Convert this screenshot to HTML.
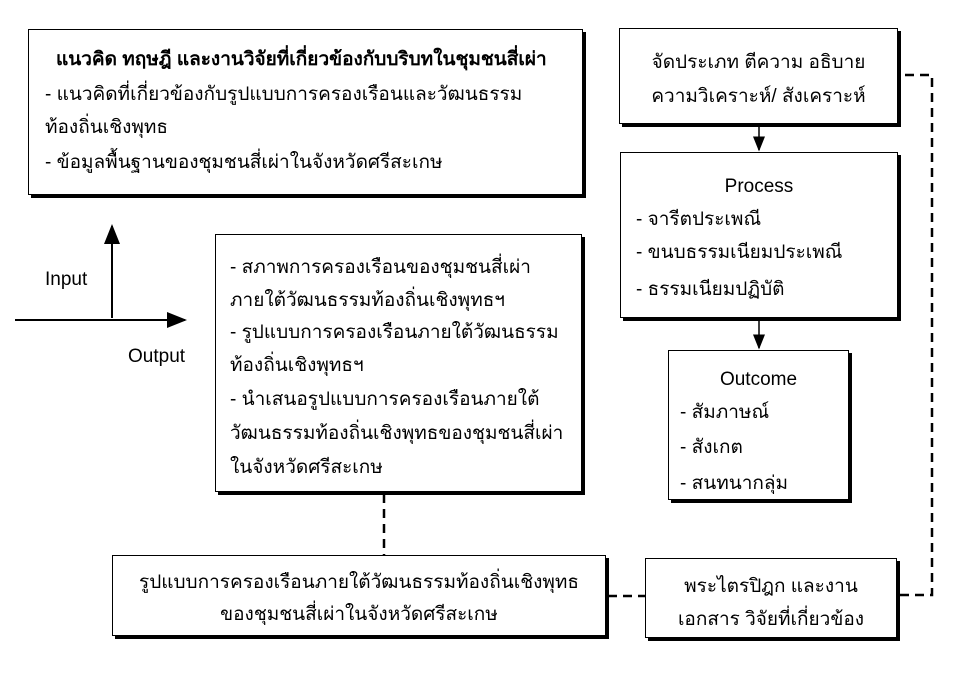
<!DOCTYPE html>
<html><head><meta charset="utf-8"><style>
body{margin:0;width:971px;height:673px;background:#fff;position:relative;overflow:hidden;font-family:"Liberation Sans","DejaVu Sans","Noto Sans CJK SC",sans-serif;color:#000;font-size:19px}
.b{position:absolute;border:1.5px solid #000;box-shadow:3px 3px 0 #000;background:#fff;box-sizing:border-box}
.t{position:absolute;white-space:nowrap;line-height:22px}
</style></head><body>
<svg width="971" height="673" style="position:absolute;left:0;top:0">
<defs><marker id="a" markerWidth="10" markerHeight="10" refX="9" refY="5" orient="auto"><path d="M0,1 L10,5 L0,9z" fill="#000"/></marker></defs>
<line x1="112" y1="318" x2="112" y2="226" stroke="#000" stroke-width="2" marker-end="url(#a)"/>
<line x1="15" y1="320" x2="185" y2="320" stroke="#000" stroke-width="2" marker-end="url(#a)"/>
<line x1="759" y1="125" x2="759" y2="150" stroke="#000" stroke-width="1.5" marker-end="url(#a)"/>
<line x1="759" y1="320" x2="759" y2="348" stroke="#000" stroke-width="1.5" marker-end="url(#a)"/>
<g stroke="#000" stroke-width="2.5" stroke-dasharray="9,6" fill="none">
<line x1="384" y1="494" x2="384" y2="555"/>
<line x1="608" y1="596" x2="645" y2="596"/>
<polyline points="900,595 932,595 932,75 900,75"/>
</g>
</svg>
<div class="b" style="left:28px;top:29px;width:555px;height:166px"></div>
<div class="t" style="left:56px;top:49px;font-weight:bold">แนวคิด ทฤษฎี และงานวิจัยที่เกี่ยวข้องกับบริบทในชุมชนสี่เผ่า</div>
<div class="t" style="left:45px;top:84px">- แนวคิดที่เกี่ยวข้องกับรูปแบบการครองเรือนและวัฒนธรรม</div>
<div class="t" style="left:45px;top:117px">ท้องถิ่นเชิงพุทธ</div>
<div class="t" style="left:45px;top:152px">- ข้อมูลพื้นฐานของชุมชนสี่เผ่าในจังหวัดศรีสะเกษ</div>
<div class="t" style="left:45px;top:269px">Input</div>
<div class="t" style="left:128px;top:346px">Output</div>
<div class="b" style="left:215px;top:234px;width:367px;height:258px"></div>
<div class="t" style="left:230px;top:257px">- สภาพการครองเรือนของชุมชนสี่เผ่า</div>
<div class="t" style="left:230px;top:290px">ภายใต้วัฒนธรรมท้องถิ่นเชิงพุทธฯ</div>
<div class="t" style="left:230px;top:322px">- รูปแบบการครองเรือนภายใต้วัฒนธรรม</div>
<div class="t" style="left:230px;top:355px">ท้องถิ่นเชิงพุทธฯ</div>
<div class="t" style="left:230px;top:389px">- นำเสนอรูปแบบการครองเรือนภายใต้</div>
<div class="t" style="left:230px;top:423px">วัฒนธรรมท้องถิ่นเชิงพุทธของชุมชนสี่เผ่า</div>
<div class="t" style="left:230px;top:457px">ในจังหวัดศรีสะเกษ</div>
<div class="b" style="left:619px;top:28px;width:279px;height:96px"></div>
<div class="t" style="left:619px;width:279px;text-align:center;top:52px">จัดประเภท ตีความ อธิบาย</div>
<div class="t" style="left:619px;width:279px;text-align:center;top:86px">ความวิเคราะห์/ สังเคราะห์</div>
<div class="b" style="left:620px;top:152px;width:278px;height:166px"></div>
<div class="t" style="left:620px;width:278px;text-align:center;top:176px">Process</div>
<div class="t" style="left:636px;top:209px">- จารีตประเพณี</div>
<div class="t" style="left:636px;top:242px">- ขนบธรรมเนียมประเพณี</div>
<div class="t" style="left:636px;top:279px">- ธรรมเนียมปฏิบัติ</div>
<div class="b" style="left:668px;top:350px;width:181px;height:150px"></div>
<div class="t" style="left:668px;width:181px;text-align:center;top:369px">Outcome</div>
<div class="t" style="left:680px;top:402px">- สัมภาษณ์</div>
<div class="t" style="left:680px;top:437px">- สังเกต</div>
<div class="t" style="left:680px;top:473px">- สนทนากลุ่ม</div>
<div class="b" style="left:112px;top:555px;width:494px;height:81px"></div>
<div class="t" style="left:112px;width:494px;text-align:center;top:572px">รูปแบบการครองเรือนภายใต้วัฒนธรรมท้องถิ่นเชิงพุทธ</div>
<div class="t" style="left:112px;width:494px;text-align:center;top:604px">ของชุมชนสี่เผ่าในจังหวัดศรีสะเกษ</div>
<div class="b" style="left:645px;top:558px;width:252px;height:80px"></div>
<div class="t" style="left:645px;width:252px;text-align:center;top:576px">พระไตรปิฎก และงาน</div>
<div class="t" style="left:645px;width:252px;text-align:center;top:609px">เอกสาร วิจัยที่เกี่ยวข้อง</div>
</body></html>
